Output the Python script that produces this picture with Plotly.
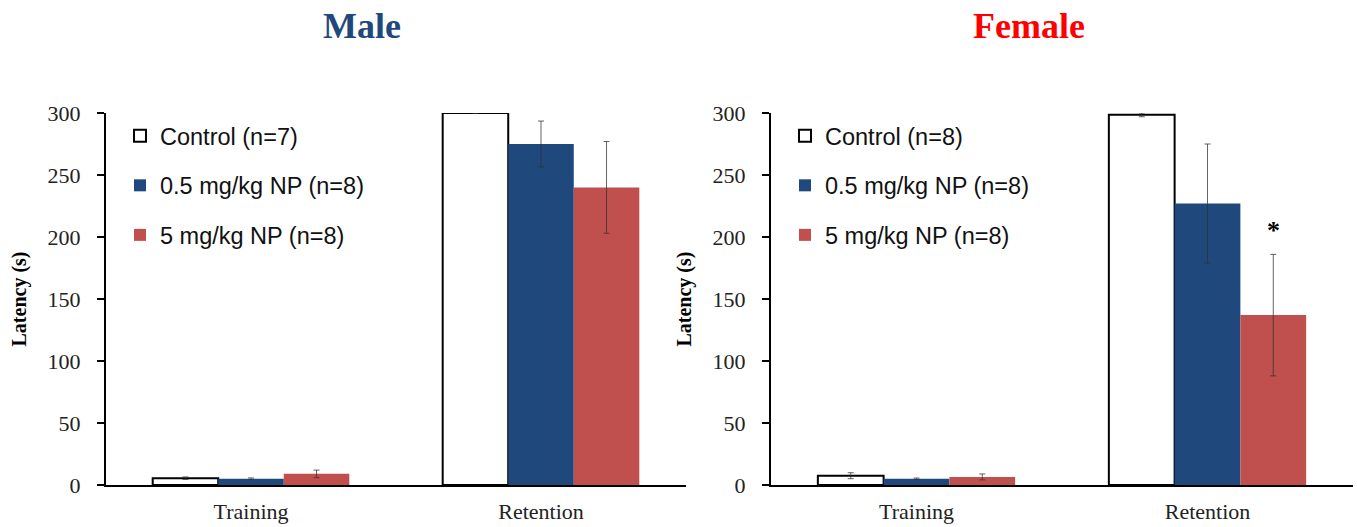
import plotly.graph_objects as go

W, H = 1357, 527

categories = ["Training", "Retention"]
groups = ["Control", "0.5 mg/kg NP", "5 mg/kg NP"]

male_n = [7, 8, 8]
female_n = [8, 8, 8]

male_control = [5.5, 300]
male_low = [5, 275]
male_high = [9, 240]
male_control_err = [1, 0]
male_low_err = [0.7, 18.5]
male_high_err = [3, 37]

female_control = [7.5, 298.5]
female_low = [5, 227]
female_high = [6.5, 137]
female_control_err = [2.4, 1.5]
female_low_err = [0.6, 48]
female_high_err = [2.4, 49]

sig_marker = "*"

colors = ["#FFFFFF", "#1F497D", "#C0504D"]
line_colors = ["#000000", "#1F497D", "#C0504D"]
line_widths = [2, 0, 0]

serif = "Liberation Serif, Times New Roman, serif"
sans = "Liberation Sans, Arial, sans-serif"

fig = go.Figure()

male_vals = [male_control, male_low, male_high]
male_errs = [male_control_err, male_low_err, male_high_err]
female_vals = [female_control, female_low, female_high]
female_errs = [female_control_err, female_low_err, female_high_err]

for i in range(3):
    fig.add_trace(go.Bar(
        x=categories, y=male_vals[i], name=f"{groups[i]} (n={male_n[i]})",
        marker=dict(color=colors[i], line=dict(color=line_colors[i], width=line_widths[i])),
        error_y=dict(type="data", array=male_errs[i], color="rgba(50,50,50,0.75)", thickness=1, width=3),
        xaxis="x", yaxis="y", legend="legend", legendgroup=f"m{i}",
        cliponaxis=False,
    ))
for i in range(3):
    fig.add_trace(go.Bar(
        x=categories, y=female_vals[i], name=f"{groups[i]} (n={female_n[i]})",
        marker=dict(color=colors[i], line=dict(color=line_colors[i], width=line_widths[i])),
        error_y=dict(type="data", array=female_errs[i], color="rgba(50,50,50,0.75)", thickness=1, width=3),
        xaxis="x2", yaxis="y2", legend="legend2", legendgroup=f"f{i}",
        cliponaxis=False,
    ))

ydom = [1 - 485 / H, 1 - 113 / H]
axis_common = dict(
    showgrid=False, showline=True, linecolor="black", linewidth=2, automargin=False,
    tickfont=dict(family=serif, size=22, color="#222"),
)
yaxis_common = dict(
    axis_common, range=[0, 300], tickvals=[0, 50, 100, 150, 200, 250, 300],
    ticks="outside", ticklen=7, tickwidth=2, tickcolor="black", zeroline=False,
    ticklabelstandoff=12,
    title=dict(text="<b>Latency (s)</b>", font=dict(family=serif, size=20, color="black"), standoff=16),
)
xaxis_common = dict(axis_common, ticks="", type="category", ticklabelstandoff=6)

legend_font = dict(family=sans, size=23.5, color="#111")

fig.update_layout(
    width=W, height=H,
    margin=dict(l=0, r=0, t=0, b=0),
    paper_bgcolor="white", plot_bgcolor="white",
    barmode="group", bargap=0.322, bargroupgap=0,
    xaxis=dict(xaxis_common, domain=[106 / W, 686 / W], anchor="y"),
    yaxis=dict(yaxis_common, domain=ydom, anchor="x"),
    xaxis2=dict(xaxis_common, domain=[771 / W, 1353 / W], anchor="y2"),
    yaxis2=dict(yaxis_common, domain=ydom, anchor="x2"),
    legend=dict(x=120 / W, y=1 - 114 / H, xanchor="left", yanchor="top",
                font=legend_font, tracegroupgap=16, bgcolor="rgba(0,0,0,0)"),
    legend2=dict(x=785 / W, y=1 - 114 / H, xanchor="left", yanchor="top",
                 font=legend_font, tracegroupgap=16, bgcolor="rgba(0,0,0,0)"),
    annotations=[
        dict(text="<b>Male</b>", x=362 / W, y=1 - 26 / H, xref="paper", yref="paper",
             showarrow=False, font=dict(family=serif, size=36, color="#1F497D"),
             xanchor="center", yanchor="middle"),
        dict(text="<b>Female</b>", x=1029 / W, y=1 - 26 / H, xref="paper", yref="paper",
             showarrow=False, font=dict(family=serif, size=36, color="#FF0000"),
             xanchor="center", yanchor="middle"),
        dict(text=f"<b>{sig_marker}</b>", x="Retention", xref="x2", xshift=65.5,
             y=female_high[1] + female_high_err[1], yref="y2", yshift=24,
             showarrow=False, font=dict(family=serif, size=26, color="black")),
    ],
)

fig.write_html("out.html")
